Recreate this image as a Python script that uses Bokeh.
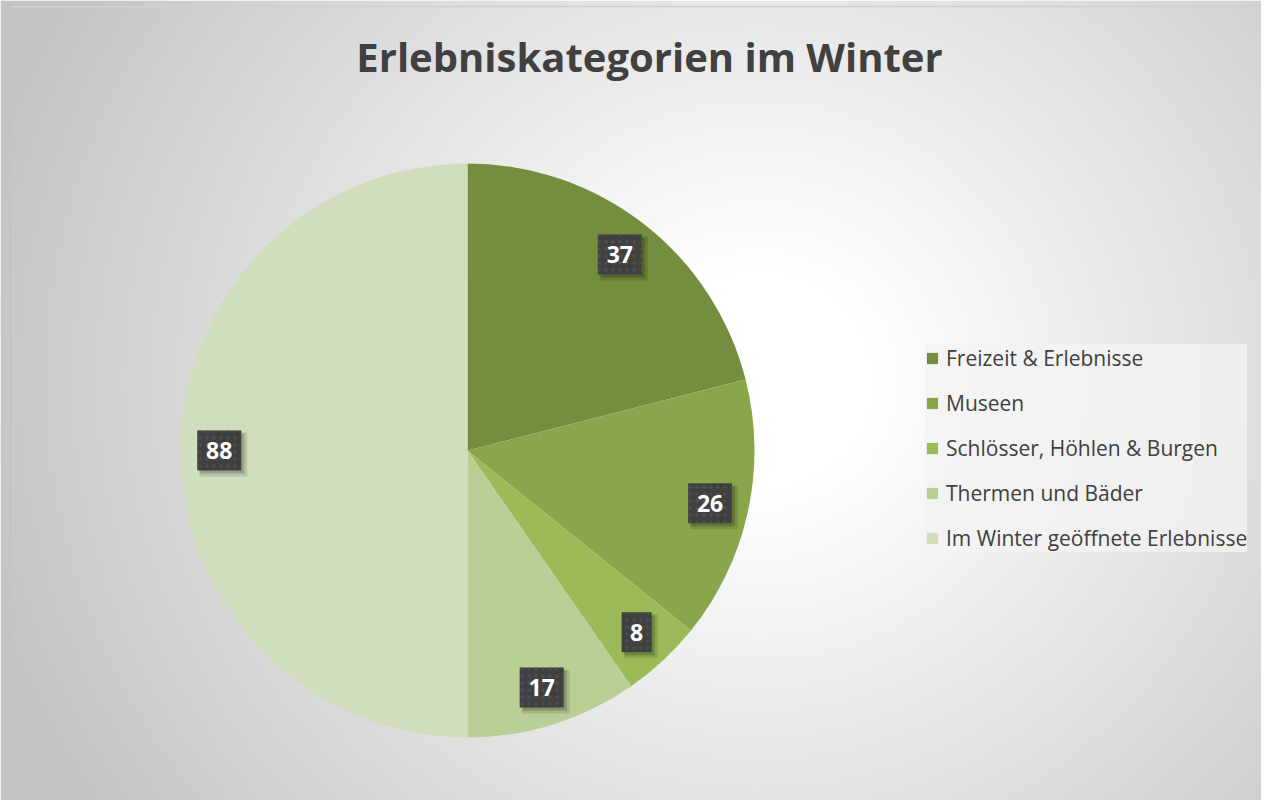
import numpy as np
from bokeh.plotting import figure
from bokeh.models import ColumnDataSource, Legend, LegendItem, Range1d
from bokeh.embed import file_html
from bokeh.resources import INLINE
from bokeh.core.properties import value

# ---- data ----
title_text = "Erlebniskategorien im Winter"
categories = ["Freizeit & Erlebnisse", "Museen", "Schlösser, Höhlen & Burgen",
              "Thermen und Bäder", "Im Winter geöffnete Erlebnisse"]
values = [37, 26, 8, 17, 88]
colors = ["#758D3E", "#8AA64C", "#9BBB59", "#BACF96", "#D1DEBE"]

FONT = "Open Sans"
W, H = 1261, 800
p = figure(width=W, height=H, x_range=Range1d(0, W), y_range=Range1d(0, H),
           output_backend="svg", toolbar_location=None, min_border=0)
p.axis.visible = False
p.grid.visible = False
p.outline_line_color = None
p.background_fill_color = "#ffffff"
p.border_fill_color = "#ffffff"

# ---- radial gradient background ----
nx, ny = 316, 200
gx = np.linspace(0, W, nx)
gy = np.linspace(0, H, ny)
XX, YY = np.meshgrid(gx, gy)
gcx, gcy = 760.0, 420.0
d = np.sqrt(((XX - gcx) / 1.05) ** 2 + (YY - gcy) ** 2)
t = np.clip((d - 110) / 660.0, 0, 1)
g = (255 - t * (255 - 196)).astype(np.uint32)
img = (255 << 24) | (g << 16) | (g << 8) | g
p.image_rgba(image=[img.astype(np.uint32)], x=0, y=0, dw=W, dh=H)
# thin border lines at top / left of chart area
p.line(x=[10, W], y=[H - 6, H - 6], line_color="#d0d0d0", line_width=1.5)
p.line(x=[10, 10], y=[0, H - 6], line_color="#c0c0c0", line_width=1)

# ---- pie ----
cx, cy, R = 467.0, 350.0, 287.0
total = float(sum(values))
angles = np.array(values) / total * 2 * np.pi
a0 = np.pi / 2 - np.cumsum(angles)
a1 = a0 + angles
src = ColumnDataSource(dict(cat=categories, val=values, color=colors, a0=a0, a1=a1))
wr = p.wedge(x=cx, y=cy, radius=R, start_angle="a0", end_angle="a1",
             direction="anticlock", fill_color="color", line_color=None, source=src)

# ---- data labels ----
mid = (a0 + a1) / 2
lx = cx + 0.865 * R * np.cos(mid)
ly = cy + 0.865 * R * np.sin(mid)
bw = [len(str(v)) * 14 + 16 for v in values]
lab = ColumnDataSource(dict(x=lx, y=ly, sx=lx + 4, sy=ly - 4, sx2=lx + 3, sy2=ly - 3,
                            w=bw, w2=[b + 4 for b in bw], txt=[str(v) for v in values]))
p.rect(x="sx", y="sy", width="w2", height=44, fill_color="#000000", fill_alpha=0.12,
       line_color=None, source=lab)
p.rect(x="sx2", y="sy2", width="w", height=40, fill_color="#000000", fill_alpha=0.18,
       line_color=None, source=lab)
p.rect(x="x", y="y", width="w", height=40, fill_color="#404040", line_color=None,
       hatch_pattern="dot", hatch_color="#4e4e4e", hatch_scale=7, hatch_weight=2,
       source=lab)
p.text(x="x", y="y", text="txt", text_font=value(FONT), text_font_style="bold",
       text_font_size="23px", text_color="#ffffff", text_align="center",
       text_baseline="middle", source=lab)

# ---- title ----
p.text(x=[649], y=[744], text=[title_text], text_font=value(FONT), text_font_style="bold",
       text_font_size="40px", text_color="#404040", text_align="center",
       text_baseline="alphabetic")

# ---- legend ----
items = [LegendItem(label=c, renderers=[wr], index=i) for i, c in enumerate(categories)]
legend = Legend(items=items, location=(925, 248), orientation="vertical",
                glyph_width=14, glyph_height=14, label_height=20, spacing=17,
                padding=10, label_standoff=7, margin=0,
                label_text_font=FONT, label_text_font_size="21px",
                label_text_color="#404040",
                background_fill_color="#f2f2f2", background_fill_alpha=0.8,
                border_line_color=None)
p.add_layout(legend, "center")

open("out.html", "w").write(file_html(p, INLINE))
